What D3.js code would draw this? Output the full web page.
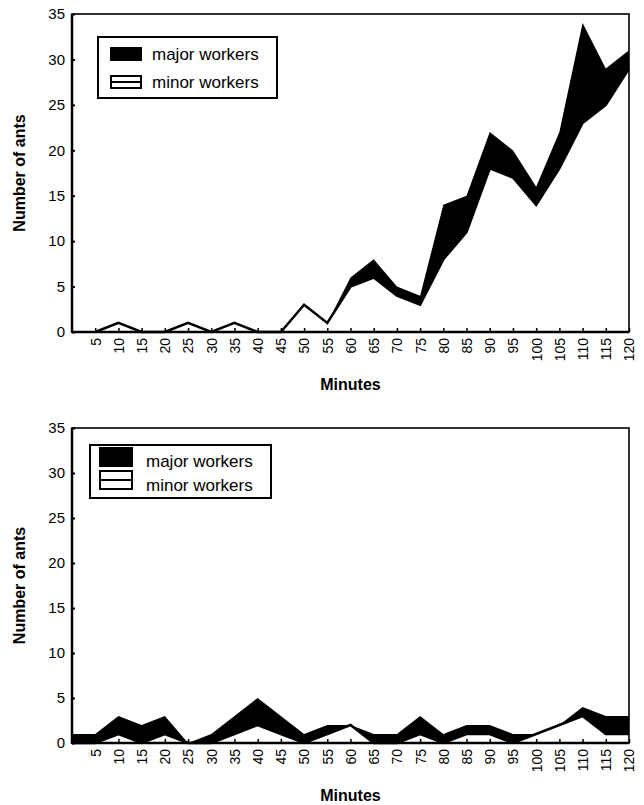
<!DOCTYPE html>
<html><head><meta charset="utf-8">
<script src="https://cdn.jsdelivr.net/npm/d3@7"></script>
<style>
body{margin:0;background:#fff;}
text{font-family:"Liberation Sans",Arial,sans-serif;fill:#000;}
</style></head>
<body>
<svg id="chart" width="644" height="805"></svg>
<script>
// ---- data ----
const topMinutes = [5,10,15,20,25,30,35,40,45,50,55,60,65,70,75,80,85,90,95,100,105,110,115,120];
const topMinor   = [0,1,0,0,1,0,1,0,0,3,1,5,6,4,3,8,11,18,17,14,18,23,25,29];
const topTotal   = [0,1,0,0,1,0,1,0,0,3,1,6,8,5,4,14,15,22,20,16,22,34,29,31];

const bottomMinutes = [0,5,10,15,20,25,30,35,40,45,50,55,60,65,70,75,80,85,90,95,100,105,110,115,120];
const bottomMinor   = [0,0,1,0,1,0,0,1,2,1,0,1,2,0,0,1,0,1,1,0,1,2,3,1,1];
const bottomTotal   = [1,1,3,2,3,0,1,3,5,3,1,2,2,1,1,3,1,2,2,1,1,2,4,3,3];

const xTicks = [5,10,15,20,25,30,35,40,45,50,55,60,65,70,75,80,85,90,95,100,105,110,115,120];
const yTicks = [0,5,10,15,20,25,30,35];
const legendLabels = ["major workers","minor workers"];

const svg = d3.select("#chart");

function panel(cfg){
  const {top, bottom, minutes, minor, total, legend} = cfg;
  const left = 72, right = 629;
  const x = d3.scaleLinear().domain([0,120]).range([left,right]);
  const y = d3.scaleLinear().domain([0,35]).range([bottom,top]);
  const g = svg.append("g");
  const data = minutes.map((m,i)=>({m, minor:minor[i], total:total[i]}));

  // black band (major workers)
  g.append("path").datum(data)
    .attr("d", d3.area().x(d=>x(d.m)).y0(d=>y(d.minor)).y1(d=>y(d.total)))
    .attr("fill","#000");
  // minor workers line
  g.append("path").datum(data)
    .attr("d", d3.line().x(d=>x(d.m)).y(d=>y(d.minor)))
    .attr("fill","none").attr("stroke","#000").attr("stroke-width",2.5)
    .attr("stroke-linejoin","miter");

  // frame
  g.append("rect").attr("x",left).attr("y",top).attr("width",right-left).attr("height",bottom-top)
    .attr("fill","none").attr("stroke","#000").attr("stroke-width",1.6);
  g.append("line").attr("x1",left).attr("x2",left).attr("y1",top).attr("y2",bottom+1)
    .attr("stroke","#000").attr("stroke-width",2.5);
  g.append("line").attr("x1",left).attr("x2",right).attr("y1",bottom).attr("y2",bottom)
    .attr("stroke","#000").attr("stroke-width",2.5);

  // y axis
  const ya = g.append("g").attr("transform",`translate(${left},0)`)
    .call(d3.axisLeft(y).tickValues(yTicks).tickSize(-3).tickPadding(7).tickFormat(d3.format("d")));
  ya.select(".domain").remove();
  ya.selectAll(".tick line").attr("stroke","#000").attr("stroke-width",2);
  ya.selectAll(".tick text").attr("font-size",15).attr("font-family","Liberation Sans, Arial, sans-serif");

  // x axis
  const xa = g.append("g").attr("transform",`translate(0,${bottom})`)
    .call(d3.axisBottom(x).tickValues(xTicks).tickSize(-4).tickFormat(d3.format("d")));
  xa.select(".domain").remove();
  xa.selectAll(".tick line").attr("stroke","#000").attr("stroke-width",1.5);
  xa.selectAll(".tick text")
    .attr("font-size",14).attr("font-family","Liberation Sans, Arial, sans-serif")
    .attr("text-anchor","end").attr("dy","0.35em").attr("x",-6).attr("y",0)
    .attr("transform","rotate(-90)");

  // axis titles
  g.append("text").attr("x",(left+right)/2).attr("y",bottom+58)
    .attr("text-anchor","middle").attr("font-weight","bold").attr("font-size",16).text("Minutes");
  g.append("text").attr("transform",`translate(25,${(top+bottom)/2}) rotate(-90)`)
    .attr("text-anchor","middle").attr("font-weight","bold").attr("font-size",16).text("Number of ants");

  // legend
  const L = legend;
  const lg = g.append("g");
  lg.append("rect").attr("x",L.x).attr("y",L.y).attr("width",L.w).attr("height",L.h)
    .attr("fill","#fff").attr("stroke","#000").attr("stroke-width",2);
  lg.append("rect").attr("x",L.sx).attr("y",L.s1y).attr("width",L.sw).attr("height",L.sh)
    .attr("fill","#000");
  lg.append("rect").attr("x",L.sx+1).attr("y",L.s2y+1).attr("width",L.sw-2).attr("height",L.sh-2)
    .attr("fill","#fff").attr("stroke","#000").attr("stroke-width",2);
  lg.append("line").attr("x1",L.sx).attr("x2",L.sx+L.sw).attr("y1",L.s2y+L.sh/2).attr("y2",L.s2y+L.sh/2)
    .attr("stroke","#000").attr("stroke-width",2);
  lg.append("text").attr("x",L.tx).attr("y",L.t1y).attr("font-size",17).text(legendLabels[0]);
  lg.append("text").attr("x",L.tx).attr("y",L.t2y).attr("font-size",17).text(legendLabels[1]);
}

panel({top:14, bottom:332, minutes:topMinutes, minor:topMinor, total:topTotal,
  legend:{x:98,y:37,w:179,h:61, sx:110,sw:32,sh:14,s1y:47,s2y:75, tx:152,t1y:60,t2y:88}});
panel({top:428, bottom:743, minutes:bottomMinutes, minor:bottomMinor, total:bottomTotal,
  legend:{x:90,y:445,w:181,h:53, sx:99,sw:34,sh:20,s1y:447,s2y:470, tx:146,t1y:467,t2y:491}});
</script>
</body></html>
